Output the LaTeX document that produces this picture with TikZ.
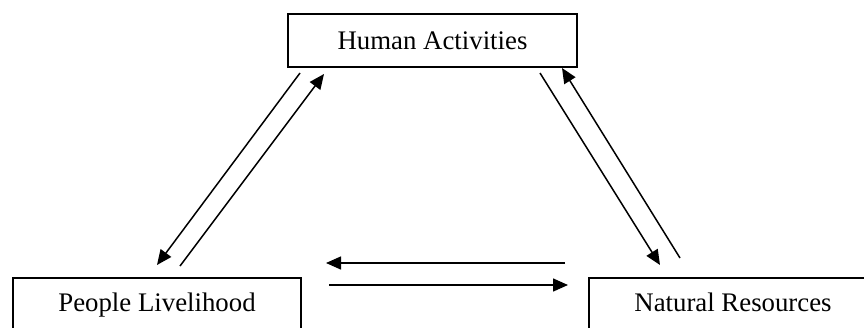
\documentclass[tikz,border=0pt]{standalone}
\usepackage{fontspec}
\setmainfont{Liberation Serif}
\usetikzlibrary{arrows.meta}
\tikzset{
  box/.style={draw, line width=1.7pt, minimum width=288pt, minimum height=53pt, inner sep=0pt,
    font=\fontsize{26.8}{32}\selectfont, text height=18.5pt},
  link/.style={line width=1.5pt, -{Triangle[length=15pt,width=13pt]}}
}
\begin{document}
\begin{tikzpicture}[x=1pt,y=-1pt]
\useasboundingbox (0,0) rectangle (864,327);
\node[box, minimum width=289pt, text depth=0pt] (ha) at (432.5,40.5) {Human Activities};
\node[box, text depth=4.1pt] (pl) at (157,304.5) {People Livelihood};
\node[box, text depth=4.1pt] (nr) at (733,304.5) {Natural Resources};
% connector end points
\coordinate (a1) at (300,73);  \coordinate (b1) at (157,265);
\coordinate (a2) at (180,266); \coordinate (b2) at (324,74);
\coordinate (a3) at (540,73);  \coordinate (b3) at (660,265);
\coordinate (a4) at (680,258); \coordinate (b4) at (562,68);
\coordinate (a5) at (565,263); \coordinate (b5) at (326,263);
\coordinate (a6) at (329,285); \coordinate (b6) at (568,285);
\draw[link] (a1) -- (b1);
\draw[link] (a2) -- (b2);
\draw[link] (a3) -- (b3);
\draw[link] (a4) -- (b4);
\draw[link] (a5) -- (b5);
\draw[link] (a6) -- (b6);
\end{tikzpicture}
\end{document}
